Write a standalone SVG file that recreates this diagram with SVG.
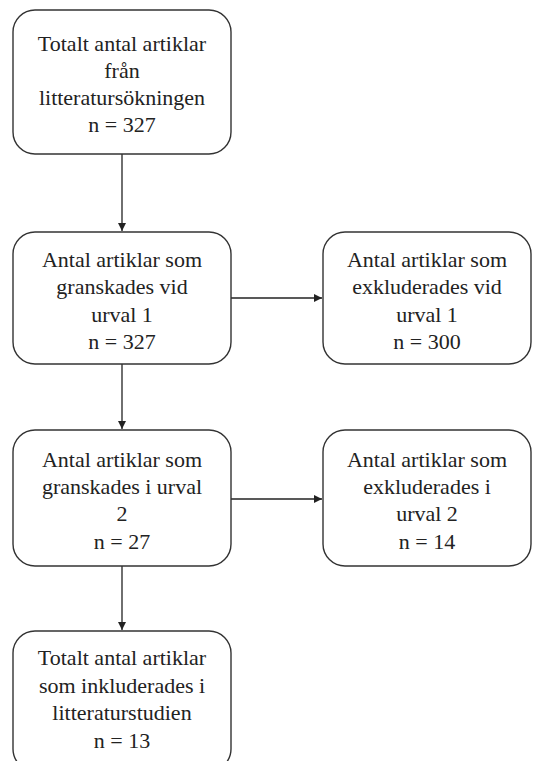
<svg xmlns="http://www.w3.org/2000/svg" width="533" height="761" viewBox="0 0 533 761">
<style>
.box{fill:#ffffff;stroke:#333333;stroke-width:1.4}
.lbl{font-family:"Liberation Serif","Times New Roman",serif;font-size:22px;fill:#222222;text-anchor:middle}
.conn{stroke:#222222;stroke-width:1.3;fill:none}
</style>
<defs>
<marker id="ah" viewBox="0 0 10 10" refX="10" refY="5" markerWidth="8" markerHeight="8" markerUnits="userSpaceOnUse" orient="auto">
<path d="M0,0 L10,5 L0,10 z" fill="#222222"/>
</marker>
</defs>
<rect width="533" height="761" fill="#ffffff"/>
<g id="connectors">
<line class="conn" x1="122" y1="154" x2="122" y2="231" marker-end="url(#ah)"/>
<line class="conn" x1="230" y1="298" x2="322" y2="298" marker-end="url(#ah)"/>
<line class="conn" x1="122" y1="364" x2="122" y2="429" marker-end="url(#ah)"/>
<line class="conn" x1="230" y1="499" x2="322" y2="499" marker-end="url(#ah)"/>
<line class="conn" x1="122" y1="566" x2="122" y2="630" marker-end="url(#ah)"/>
</g>
<g id="n1">
<rect class="box" x="13" y="10" width="218" height="144" rx="22"/>
<text class="lbl" x="122" y="51">Totalt antal artiklar</text>
<text class="lbl" x="122" y="78">från</text>
<text class="lbl" x="122" y="105">litteratursökningen</text>
<text class="lbl" x="122" y="132">n = 327</text>
</g>
<g id="n2">
<rect class="box" x="13" y="232" width="218" height="132" rx="22"/>
<text class="lbl" x="122" y="267">Antal artiklar som</text>
<text class="lbl" x="122" y="294">granskades vid</text>
<text class="lbl" x="122" y="322">urval 1</text>
<text class="lbl" x="122" y="349">n = 327</text>
</g>
<g id="n3">
<rect class="box" x="323" y="232" width="208" height="132" rx="22"/>
<text class="lbl" x="427" y="267">Antal artiklar som</text>
<text class="lbl" x="427" y="294">exkluderades vid</text>
<text class="lbl" x="427" y="322">urval 1</text>
<text class="lbl" x="427" y="349">n = 300</text>
</g>
<g id="n4">
<rect class="box" x="13" y="430" width="218" height="136" rx="22"/>
<text class="lbl" x="122" y="467">Antal artiklar som</text>
<text class="lbl" x="122" y="494">granskades i urval</text>
<text class="lbl" x="122" y="521">2</text>
<text class="lbl" x="122" y="549">n = 27</text>
</g>
<g id="n5">
<rect class="box" x="323" y="430" width="208" height="136" rx="22"/>
<text class="lbl" x="427" y="467">Antal artiklar som</text>
<text class="lbl" x="427" y="494">exkluderades i</text>
<text class="lbl" x="427" y="521">urval 2</text>
<text class="lbl" x="427" y="549">n = 14</text>
</g>
<g id="n6">
<rect class="box" x="13" y="631" width="218" height="140" rx="22"/>
<text class="lbl" x="122" y="665">Totalt antal artiklar</text>
<text class="lbl" x="122" y="693">som inkluderades i</text>
<text class="lbl" x="122" y="720">litteraturstudien</text>
<text class="lbl" x="122" y="748">n = 13</text>
</g>
</svg>
